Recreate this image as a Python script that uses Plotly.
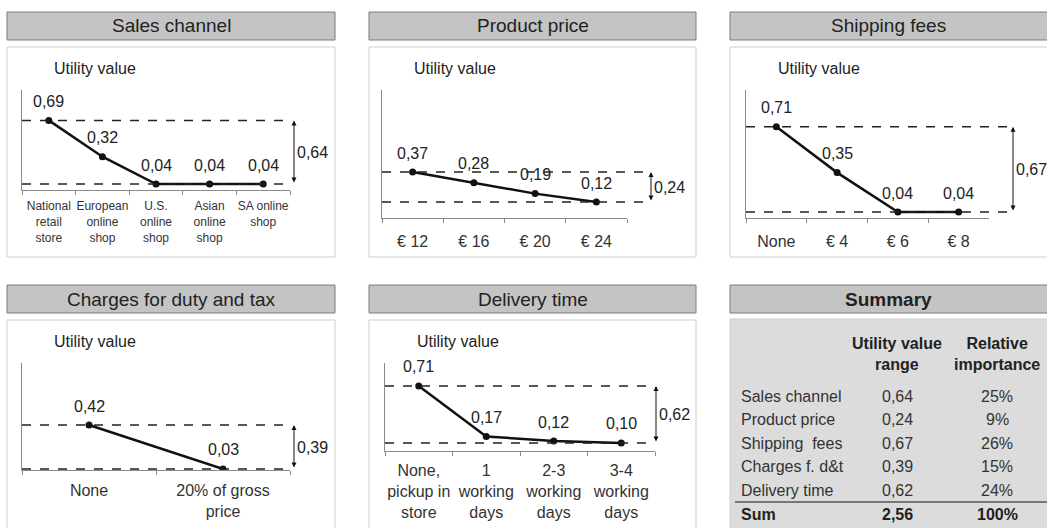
import plotly.graph_objects as go

W, H = 1047, 528

# panel data
sales_cats = ["National<br>retail<br>store", "European<br>online<br>shop", "U.S.<br>online<br>shop",
              "Asian<br>online<br>shop", "SA online<br>shop"]
sales_vals = [0.69, 0.32, 0.04, 0.04, 0.04]

price_cats = ["€ 12", "€ 16", "€ 20", "€ 24"]
price_vals = [0.37, 0.28, 0.19, 0.12]

ship_cats = ["None", "€ 4", "€ 6", "€ 8"]
ship_vals = [0.71, 0.35, 0.04, 0.04]

duty_cats = ["None", "20% of gross<br>price"]
duty_vals = [0.42, 0.03]

deliv_cats = ["None,<br>pickup in<br>store", "1<br>working<br>days", "2-3<br>working<br>days",
              "3-4<br>working<br>days"]
deliv_vals = [0.71, 0.17, 0.12, 0.10]

titles = ["Sales channel", "Product price", "Shipping fees", "Charges for duty and tax", "Delivery time"]
ranges = ["0,64", "0,24", "0,67", "0,39", "0,62"]

# summary table
sum_factors = ["Sales channel", "Product price", "Shipping  fees", "Charges f. d&t", "Delivery time"]
sum_range = ["0,64", "0,24", "0,67", "0,39", "0,62"]
sum_importance = ["25%", "9%", "26%", "15%", "24%"]
sum_total = ["Sum", "2,56", "100%"]

FONT = "Liberation Sans, Arial, sans-serif"


def px_x(p):
    return p / W


def px_y(p):
    return 1 - p / H


# (x-axis px left, right, y-axis px top, bottom, y range, dash end px, tick font size, standoff)
panels = [
    (sales_cats, sales_vals, 22, 290, 90, 190, [-0.02, 1.0], 290, 12, 5),
    (price_cats, price_vals, 382, 627, 90, 218, [-0.013, 1.053], 647, 16, 9),
    (ship_cats, ship_vals, 746, 989, 90, 218, [-0.007, 1.0], 1009, 16, 9),
    (duty_cats, duty_vals, 22, 290, 363, 470, [0.021, 0.97], 290, 16, 6),
    (deliv_cats, deliv_vals, 385, 655, 363, 451, [0.014, 0.956], 652, 16, 5),
]

# header boxes and panel frames (px): x0, x1, header y0, y1, box y0, y1
frames = [
    (7, 335, 12, 40, 47, 257),
    (369, 696, 12, 40, 47, 257),
    (730, 1060, 12, 40, 47, 257),
    (7, 335, 285, 313, 320, 540),
    (369, 696, 285, 313, 320, 540),
    (730, 1060, 285, 313, 319, 540),
]

fig = go.Figure()
shapes = []
annotations = []

for i, (x0, x1, hy0, hy1, by0, by1) in enumerate(frames):
    summary = i == 5
    shapes.append(dict(type="rect", xref="paper", yref="paper", layer="below",
                       x0=px_x(x0), x1=px_x(x1), y0=px_y(by1), y1=px_y(by0),
                       fillcolor="#dcdcdc" if summary else "white",
                       line=dict(color="#cfcfcf", width=1)))
    shapes.append(dict(type="rect", xref="paper", yref="paper", layer="below",
                       x0=px_x(x0), x1=px_x(x1), y0=px_y(hy1), y1=px_y(hy0),
                       fillcolor="#c4c4c4", line=dict(color="#7a7a7a", width=1)))
    label = "<b>Summary</b>" if summary else titles[i]
    cx = (x0 + x1) / 2 if x1 <= W else (x0 + W) / 2
    annotations.append(dict(xref="paper", yref="paper", x=px_x(cx), y=px_y((hy0 + hy1) / 2),
                            text=label, showarrow=False, xanchor="center", yanchor="middle",
                            font=dict(size=19, color="#222222")))

for i, (cats, vals, ax0, ax1, ay0, ay1, yr, dash_end, tfs, stand) in enumerate(panels):
    n = i + 1
    xa = "x" if n == 1 else f"x{n}"
    ya = "y" if n == 1 else f"y{n}"
    fig.add_trace(go.Scatter(x=cats, y=vals, mode="lines+markers", xaxis=xa, yaxis=ya,
                             line=dict(color="#111111", width=2.5),
                             marker=dict(size=7, color="#111111"), showlegend=False,
                             hoverinfo="skip"))
    common = dict(showgrid=False, zeroline=False, showline=True, linecolor="#8a8a8a",
                  linewidth=1)
    fig.update_layout({
        ("xaxis" if n == 1 else f"xaxis{n}"): dict(
            domain=[px_x(ax0), px_x(ax1)], anchor=ya, type="category",
            range=[-0.5, len(cats) - 0.5], tickson="boundaries", ticks="outside",
            ticklen=4, tickcolor="#8a8a8a", tickangle=0, ticklabelstandoff=stand,
            tickfont=dict(size=tfs, color="#333333", family=FONT), **common),
        ("yaxis" if n == 1 else f"yaxis{n}"): dict(
            domain=[px_y(ay1), px_y(ay0)], anchor=xa, range=yr, showticklabels=False,
            ticks="", **common),
    })
    vmax, vmin = max(vals), min(vals)
    for v in (vmax, vmin):
        shapes.append(dict(type="line", xref=f"{xa} domain", yref=ya,
                           x0=0, x1=(dash_end - ax0) / (ax1 - ax0), y0=v, y1=v,
                           line=dict(color="#222222", width=1.5, dash="dash")))
    arrow_x = (dash_end + 4 - ax0) / (ax1 - ax0)
    annotations.append(dict(xref=f"{xa} domain", yref=ya, x=arrow_x, y=vmax,
                            axref="pixel", ayref=ya, ax=0, ay=vmin, text="",
                            showarrow=True, arrowhead=2, startarrowhead=2,
                            arrowside="end+start", arrowsize=1, arrowwidth=1,
                            arrowcolor="#111111"))
    annotations.append(dict(xref=f"{xa} domain", yref=ya, x=arrow_x, y=(vmax + vmin) / 2,
                            xshift=1, text=ranges[i], showarrow=False, xanchor="left",
                            yanchor="middle", font=dict(size=16, color="#222222")))
    for c, v in zip(cats, vals):
        annotations.append(dict(xref=xa, yref=ya, x=c, y=v, yshift=19,
                                text=f"{v:.2f}".replace(".", ","), showarrow=False,
                                font=dict(size=16, color="#222222")))
    annotations.append(dict(xref=f"{xa} domain", yref="paper", x=0, xshift=30,
                            y=px_y(ay0 - 22), text="Utility value", showarrow=False,
                            xanchor="left", yanchor="middle",
                            font=dict(size=16, color="#222222")))

# summary table
col_lab, col_rng, col_imp = 739, 897, 997
for x, t in zip([col_rng, col_imp], ["<b>Utility value<br>range</b>", "<b>Relative<br>importance</b>"]):
    annotations.append(dict(xref="paper", yref="paper", x=px_x(x), y=px_y(354), text=t,
                            showarrow=False, xanchor="center", yanchor="middle",
                            font=dict(size=16, color="#222222")))
row_y = [396, 419, 443, 466, 490]
for ry, f, r, p in zip(row_y, sum_factors, sum_range, sum_importance):
    for x, anc, t in zip([col_lab, col_rng, col_imp], ["left", "center", "center"], [f, r, p]):
        annotations.append(dict(xref="paper", yref="paper", x=px_x(x), y=px_y(ry), text=t,
                                showarrow=False, xanchor=anc, yanchor="middle",
                                font=dict(size=16, color="#333333")))
for x, anc, t in zip([col_lab, col_rng, col_imp], ["left", "center", "center"], sum_total):
    annotations.append(dict(xref="paper", yref="paper", x=px_x(x), y=px_y(514),
                            text=f"<b>{t}</b>", showarrow=False, xanchor=anc, yanchor="middle",
                            font=dict(size=16, color="#222222")))
shapes.append(dict(type="line", xref="paper", yref="paper", x0=px_x(735), x1=1,
                   y0=px_y(502), y1=px_y(502), line=dict(color="#555555", width=1.5)))

fig.update_layout(
    width=W, height=H,
    margin=dict(l=0, r=0, t=0, b=0),
    paper_bgcolor="white", plot_bgcolor="rgba(0,0,0,0)",
    font=dict(family=FONT, color="#222222"),
    shapes=shapes, annotations=annotations,
)
fig.write_html("out.html", config={"displayModeBar": False},
               post_script="document.body.style.margin='0';")
